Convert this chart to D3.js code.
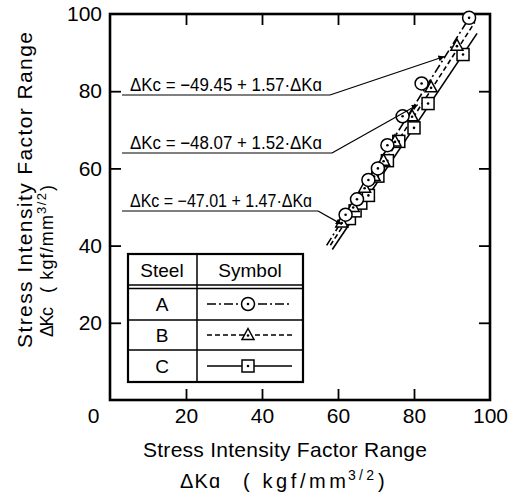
<!DOCTYPE html>
<html><head><meta charset="utf-8">
<script src="https://cdn.jsdelivr.net/npm/d3@7"></script>
<style>body{margin:0;background:#fff}svg{display:block}text{font-family:"Liberation Sans",Arial,sans-serif;fill:#000}</style>
</head><body>
<script>
// ---- data ----
const xTicks = [0, 20, 40, 60, 80, 100];
const yTicks = [20, 40, 60, 80, 100];
const steels = ["A", "B", "C"];
const intercepts = [-49.45, -48.07, -47.01];
const slopes = [1.57, 1.52, 1.47];
const lineFrom = [57, 58, 58.5];
const lineTo = [94.5, 96, 96.6];
const aX = [62, 65, 68, 70.5, 73, 77, 82, 94.5];
const aY = [48, 52, 57, 60, 66, 73.5, 82, 99];
const bX = [61, 64, 67, 69.5, 72, 75, 79.5, 84.5, 91.3];
const bY = [46, 50, 55, 58, 62, 67, 73.5, 81, 91.8];
const cX = [63, 64.5, 66, 68, 70.5, 73, 76, 80, 83.7, 92.9];
const cY = [47, 49, 51, 53, 58, 62, 67, 70.5, 76.8, 89.5];
const eqLabels = ["ΔKc = −49.45 + 1.57·ΔKɑ", "ΔKc = −48.07 + 1.52·ΔKɑ", "ΔKc = −47.01 + 1.47·ΔKɑ"];
const eqTargets = [[88, 89], [81, 76.5], [61, 45.5]];
const xTitle = "Stress Intensity Factor Range";
const yTitle = "Stress Intensity Factor Range";
const xUnit = ["ΔKɑ", "( kgf/mm", "3/2", ")"];
const yUnit = ["ΔKc", "( kgf/mm", "3/2", ")"];

const W = 515, H = 504;
const svg = d3.select("body").append("svg").attr("width", W).attr("height", H);
const x = d3.scaleLinear().domain([0, 100]).range([110, 490]);
const y = d3.scaleLinear().domain([0, 100]).range([400, 14]);

// axes
const gl = svg.append("g").attr("transform", "translate(110,0)")
  .call(d3.axisLeft(y).tickValues(yTicks).tickSizeInner(-11).tickSizeOuter(0).tickPadding(8));
const gb = svg.append("g").attr("transform", "translate(0,400)")
  .call(d3.axisBottom(x).tickValues(xTicks).tickSizeInner(-11).tickSizeOuter(0).tickPadding(8));
svg.append("g").attr("transform", "translate(0,14)")
  .call(d3.axisTop(x).tickValues([20, 40, 60, 80]).tickSizeInner(-11).tickSizeOuter(0).tickFormat(""));
svg.append("g").attr("transform", "translate(490,0)")
  .call(d3.axisRight(y).tickValues([20, 40, 60, 80]).tickSizeInner(-11).tickSizeOuter(0).tickFormat(""));
svg.selectAll(".domain").remove();
svg.selectAll(".tick line").attr("stroke", "#000").attr("stroke-width", 1.8);
svg.selectAll(".tick text").attr("font-size", 21).attr("font-family", "Liberation Sans, Arial, sans-serif").attr("fill", "#000");
gb.selectAll(".tick text").filter(d => d === 0).attr("x", -17);
gb.selectAll(".tick line").filter(d => d === 0 || d === 100).remove();
gl.selectAll(".tick line").filter(d => d === 100).remove();

svg.append("rect").attr("x", x(0)).attr("y", y(100)).attr("width", x(100) - x(0)).attr("height", y(0) - y(100))
  .attr("fill", "none").attr("stroke", "#000").attr("stroke-width", 2.6);

// axis titles
svg.append("text").attr("x", 285).attr("y", 457).attr("text-anchor", "middle").attr("font-size", 21)
  .attr("textLength", 284).attr("lengthAdjust", "spacing").text(xTitle);

// unit lines: pieces [start, length, dy, size] along reading direction
function unitLine(g, parts, layout) {
  parts.forEach((p, i) => {
    const [sx, len, dy, fs] = layout[i];
    const t = g.append("text").attr("x", sx).attr("y", dy).attr("font-size", fs).text(p);
    if (p.length > 1) t.attr("textLength", len).attr("lengthAdjust", "spacing");
  });
}
const gxu = svg.append("g").attr("transform", "translate(0,488)");
unitLine(gxu, xUnit, [[180, 40, 0, 20], [243, 103, 0, 20], [348, 26, -8, 14], [378, 7, 0, 20]]);

svg.append("text").attr("transform", "translate(32,190) rotate(-90)").attr("text-anchor", "middle").attr("font-size", 21)
  .attr("textLength", 316).attr("lengthAdjust", "spacing").text(yTitle);
const gyu = svg.append("g").attr("transform", "translate(53,0) rotate(-90)");
unitLine(gyu, yUnit, [[-337, 30, 0, 18], [-293, 78, 0, 18], [-214, 21, -7, 13], [-191, 6, 0, 18]]);

// regression lines
const dashes = ["9,3,2,3", "5,3", null];
steels.forEach((s, i) => {
  const f = v => intercepts[i] + slopes[i] * v;
  svg.append("line")
    .attr("x1", x(lineFrom[i])).attr("y1", y(f(lineFrom[i])))
    .attr("x2", x(lineTo[i])).attr("y2", y(f(lineTo[i])))
    .attr("stroke", "#000").attr("stroke-width", 1.6)
    .attr("stroke-dasharray", dashes[i]);
});

// marker drawing
function marker(g, kind, cx, cy) {
  if (kind === 0) {
    g.append("circle").attr("cx", cx).attr("cy", cy).attr("r", 6.5).attr("fill", "#fff").attr("stroke", "#000").attr("stroke-width", 1.5);
  } else if (kind === 1) {
    g.append("path").attr("d", `M${cx},${cy - 6.5}L${cx + 6},${cy + 4.5}L${cx - 6},${cy + 4.5}Z`).attr("fill", "#fff").attr("stroke", "#000").attr("stroke-width", 1.5);
  } else {
    g.append("rect").attr("x", cx - 6).attr("y", cy - 6).attr("width", 12).attr("height", 12).attr("fill", "#fff").attr("stroke", "#000").attr("stroke-width", 1.5);
  }
  g.append("circle").attr("cx", cx).attr("cy", kind === 1 ? cy + 0.5 : cy).attr("r", 1.3).attr("fill", "#000");
}
const series = [[aX, aY], [bX, bY], [cX, cY]];
const mg = svg.append("g");
[2, 1, 0].forEach(k => {
  series[k][0].forEach((vx, j) => marker(mg, k, x(vx), y(series[k][1][j])));
});

// equation annotations
const defs = svg.append("defs");
defs.append("marker").attr("id", "arr").attr("viewBox", "0 0 10 10").attr("refX", 10).attr("refY", 5)
  .attr("markerWidth", 9).attr("markerHeight", 6).attr("orient", "auto").attr("markerUnits", "userSpaceOnUse")
  .append("path").attr("d", "M0,0L10,5L0,10Z").attr("fill", "#000");
const eqY = [91, 149, 207];
const ulEnd = [330, 332, 318];
const textLen = [192, 192, 182];
eqLabels.forEach((t, i) => {
  svg.append("text").attr("x", 130).attr("y", eqY[i]).attr("font-size", 18)
    .attr("textLength", textLen[i]).attr("lengthAdjust", "spacingAndGlyphs").text(t);
  svg.append("line").attr("x1", 122).attr("x2", ulEnd[i]).attr("y1", eqY[i] + 4).attr("y2", eqY[i] + 4)
    .attr("stroke", "#000").attr("stroke-width", 1.2);
  svg.append("line").attr("x1", ulEnd[i]).attr("y1", eqY[i] + 4)
    .attr("x2", x(eqTargets[i][0])).attr("y2", y(eqTargets[i][1]))
    .attr("stroke", "#000").attr("stroke-width", 1.2).attr("marker-end", "url(#arr)");
});

// legend table
const lg = svg.append("g");
lg.append("rect").attr("x", 128).attr("y", 254).attr("width", 175).attr("height", 128).attr("fill", "#fff").attr("stroke", "#000").attr("stroke-width", 2.2);
lg.append("line").attr("x1", 197).attr("x2", 197).attr("y1", 254).attr("y2", 382).attr("stroke", "#000").attr("stroke-width", 1.5);
[285, 288.5, 320, 350].forEach(yy => lg.append("line").attr("x1", 128).attr("x2", 303).attr("y1", yy).attr("y2", yy).attr("stroke", "#000").attr("stroke-width", 1.4));
lg.append("text").attr("x", 162).attr("y", 277).attr("text-anchor", "middle").attr("font-size", 19).text("Steel");
lg.append("text").attr("x", 250).attr("y", 277).attr("text-anchor", "middle").attr("font-size", 19).text("Symbol");
const rowY = [304, 335, 366];
steels.forEach((s, i) => {
  lg.append("text").attr("x", 162).attr("y", rowY[i] + 7).attr("text-anchor", "middle").attr("font-size", 19).text(s);
  lg.append("line").attr("x1", 207).attr("x2", 292).attr("y1", rowY[i]).attr("y2", rowY[i])
    .attr("stroke", "#000").attr("stroke-width", 1.5).attr("stroke-dasharray", dashes[i]);
  marker(lg, i, 248, rowY[i]);
});
</script>
</body></html>
